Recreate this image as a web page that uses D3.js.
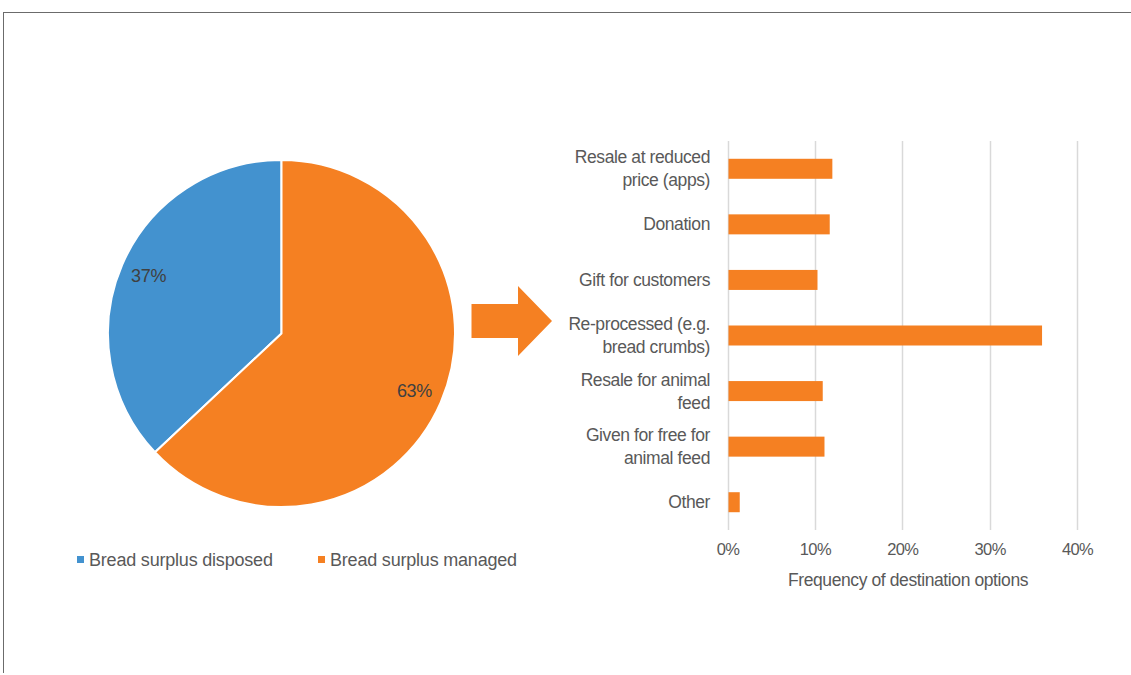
<!DOCTYPE html>
<html>
<head>
<meta charset="utf-8">
<script src="https://cdn.jsdelivr.net/npm/d3@7"></script>
<style>
  body { margin: 0; background: #fff; }
  svg { display: block; font-family: "Liberation Sans", Arial, sans-serif; }
</style>
</head>
<body>
<svg id="chart" width="1131" height="675"></svg>
<script>
// pie data
var pieNames = ["Bread surplus disposed", "Bread surplus managed"];
var pieValues = [37, 63];
var pieColors = ["#4392cf", "#f58022"];

// bar data
var barLabels = [
  ["Resale at reduced", "price (apps)"],
  ["Donation"],
  ["Gift for customers"],
  ["Re-processed (e.g.", "bread crumbs)"],
  ["Resale for animal", "feed"],
  ["Given for free for", "animal feed"],
  ["Other"]
];
var barValues = [0.12, 0.117, 0.103, 0.36, 0.109, 0.111, 0.014];
var xTicks = [0, 0.1, 0.2, 0.3, 0.4];
var xTitle = "Frequency of destination options";

var svg = d3.select("#chart");
var textCol = "#595959";

// frame lines (top + left)
svg.append("line").attr("x1", 3).attr("x2", 1131).attr("y1", 12.5).attr("y2", 12.5)
  .attr("stroke", "#6b6b6b").attr("stroke-width", 1);
svg.append("line").attr("x1", 3.5).attr("x2", 3.5).attr("y1", 12).attr("y2", 673)
  .attr("stroke", "#6b6b6b").attr("stroke-width", 1);

// ---- pie ----
var cx = 281.5, cy = 333.5, R = 173.5;
var total = d3.sum(pieValues);
var start = 2 * Math.PI * pieValues[1] / total;
var pie = d3.pie().sort(null).startAngle(start).endAngle(start + 2 * Math.PI);
var arcs = pie(pieValues);
var arc = d3.arc().innerRadius(0).outerRadius(R);
var labelArc = d3.arc().innerRadius(R * 0.835).outerRadius(R * 0.835);

var pg = svg.append("g").attr("transform", "translate(" + cx + "," + cy + ")");
pg.selectAll("path").data(arcs).enter().append("path")
  .attr("d", arc)
  .attr("fill", (d, i) => pieColors[i])
  .attr("stroke", "#fff").attr("stroke-width", 2).attr("stroke-linejoin", "round");

pg.selectAll("text").data(arcs).enter().append("text")
  .attr("transform", d => "translate(" + labelArc.centroid(d) + ")")
  .attr("text-anchor", "middle").attr("dy", "0.35em")
  .attr("font-size", 18).attr("fill", "#404040").attr("letter-spacing", "-0.3")
  .text(d => Math.round(d.data / total * 100) + "%");

// legend
var legX = [77, 318];
var lg = svg.selectAll("g.leg").data(pieNames).enter().append("g")
  .attr("class", "leg")
  .attr("transform", (d, i) => "translate(" + legX[i] + ",560)");
lg.append("rect").attr("x", 0).attr("y", -4).attr("width", 7).attr("height", 7)
  .attr("fill", (d, i) => pieColors[i]);
lg.append("text").attr("x", 12).attr("dy", "0.35em")
  .attr("font-size", 18).attr("fill", textCol).attr("letter-spacing", "-0.2").text(d => d);

// arrow
var ax = 471.5, ay = 321;
var arrowPts = [[0, -17], [46.5, -17], [46.5, -35], [80.5, 0], [46.5, 35], [46.5, 17], [0, 17]];
svg.append("polygon")
  .attr("points", arrowPts.map(p => (ax + p[0]) + "," + (ay + p[1])).join(" "))
  .attr("fill", "#f58022");

// ---- bar chart ----
var x = d3.scaleLinear().domain([0, 0.4]).range([727.5, 1077]);
var y = d3.scaleBand().domain(d3.range(barValues.length)).range([141, 530]).paddingInner(0.64).paddingOuter(0.32);

var bg = svg.append("g");
bg.append("g").selectAll("line").data(xTicks).enter().append("line")
  .attr("x1", d => Math.round(x(d)) + 0.5).attr("x2", d => Math.round(x(d)) + 0.5)
  .attr("y1", 141).attr("y2", 530)
  .attr("stroke", "#d9d9d9").attr("stroke-width", 1.5);

bg.selectAll("rect").data(barValues).enter().append("rect")
  .attr("x", x(0) + 1)
  .attr("y", (d, i) => y(i))
  .attr("width", d => x(d) - x(0) - 1)
  .attr("height", y.bandwidth())
  .attr("fill", "#f58022");

// x axis labels
var xAxis = d3.axisBottom(x).tickValues(xTicks).tickFormat(d3.format(".0%")).tickSize(0).tickPadding(13);
var xg = bg.append("g").attr("transform", "translate(0,530)").call(xAxis);
xg.select(".domain").remove();
xg.selectAll("text").attr("font-size", 16.5).attr("fill", textCol)
  .attr("font-family", "Liberation Sans, Arial, sans-serif").attr("letter-spacing", "-0.6");

bg.append("text").attr("x", 908).attr("y", 586).attr("text-anchor", "middle")
  .attr("font-size", 17.5).attr("fill", textCol).attr("letter-spacing", "-0.4").text(xTitle);

// category labels
var cat = bg.selectAll("text.cat").data(barLabels).enter().append("text")
  .attr("class", "cat")
  .attr("text-anchor", "end")
  .attr("font-size", 17.5).attr("fill", textCol).attr("letter-spacing", "-0.4")
  .attr("transform", (d, i) => "translate(710," + (y(i) + y.bandwidth() / 2) + ")");
cat.selectAll("tspan").data(d => d.map((t, k) => ({ t: t, k: k, n: d.length }))).enter().append("tspan")
  .attr("x", 0)
  .attr("y", d => (d.k - (d.n - 1) / 2) * 23)
  .attr("dy", "0.35em")
  .text(d => d.t);
</script>
</body>
</html>
